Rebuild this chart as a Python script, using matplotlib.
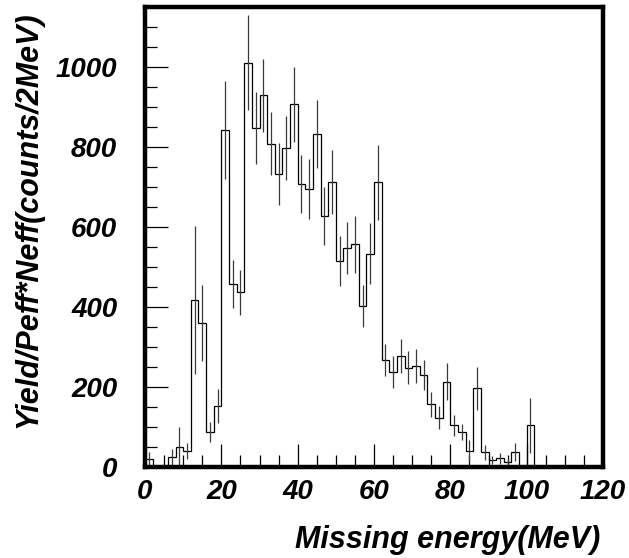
import numpy as np
import matplotlib
matplotlib.use("Agg")
import matplotlib.pyplot as plt
from matplotlib.ticker import MultipleLocator

# 2 MeV bins, 0..120 MeV
bin_edges = np.arange(0, 122, 2)
counts = [20, 0, 0, 24, 50, 40, 417, 360, 87, 152,
          843, 458, 436, 1011, 848, 929, 808, 733, 798, 907,
          707, 694, 832, 627, 713, 514, 548, 556, 402, 533,
          711, 267, 238, 277, 248, 252, 229, 156, 123, 213,
          104, 88, 40, 196, 36, 17, 21, 11, 37, 0,
          104, 0, 0, 0, 0, 0, 0, 0, 0, 0]
errors = [18, 0, 0, 20, 50, 20, 185, 95, 25, 42,
          123, 60, 57, 119, 90, 92, 79, 78, 80, 94,
          72, 75, 86, 73, 80, 62, 65, 72, 52, 76,
          95, 40, 40, 42, 42, 42, 38, 31, 29, 46,
          26, 20, 27, 54, 19, 11, 13, 8, 23, 0,
          69, 0, 0, 0, 0, 0, 0, 0, 0, 0]

plt.rcParams["font.family"] = ["Liberation Sans", "DejaVu Sans"]
plt.rcParams["font.weight"] = "bold"
plt.rcParams["font.style"] = "italic"

fig = plt.figure(figsize=(6.29, 5.58), dpi=100)
ax = fig.add_axes([145 / 629, 1 - 466.7 / 558, 458 / 629, 459.7 / 558])

c = np.array(counts, dtype=float)
e = np.array(errors, dtype=float)
centers = 0.5 * (bin_edges[:-1] + bin_edges[1:])
ax.stairs(c, bin_edges, color="black", lw=0.9)
m = e > 0
ax.errorbar(centers[m], c[m], yerr=e[m], fmt="none", ecolor="#3a3a3a",
            elinewidth=0.9, capsize=0)

ax.set_xlim(0, 120)
ax.set_ylim(0, 1150)
ax.xaxis.set_major_locator(MultipleLocator(20))
ax.xaxis.set_minor_locator(MultipleLocator(5))
ax.yaxis.set_major_locator(MultipleLocator(200))
ax.yaxis.set_minor_locator(MultipleLocator(50))
ax.tick_params(which="both", direction="in", top=False, right=False, width=0.9)
ax.tick_params(which="major", length=16.5, labelsize=20)
ax.tick_params(which="minor", length=8.5)
ax.tick_params(axis="y", which="major", pad=20)
ax.tick_params(axis="x", which="major", pad=9)
for sp in ax.spines.values():
    sp.set_linewidth(3.2)

fig.text(28 / 629, 1 - 220 / 558, "Yield/Peff*Neff(counts/2MeV)", rotation=90,
         ha="center", va="center", fontsize=22)
fig.text(600 / 629, 1 - 548 / 558, "Missing energy(MeV)", ha="right",
         va="baseline", fontsize=22)

fig.savefig("out.png", dpi=100)
